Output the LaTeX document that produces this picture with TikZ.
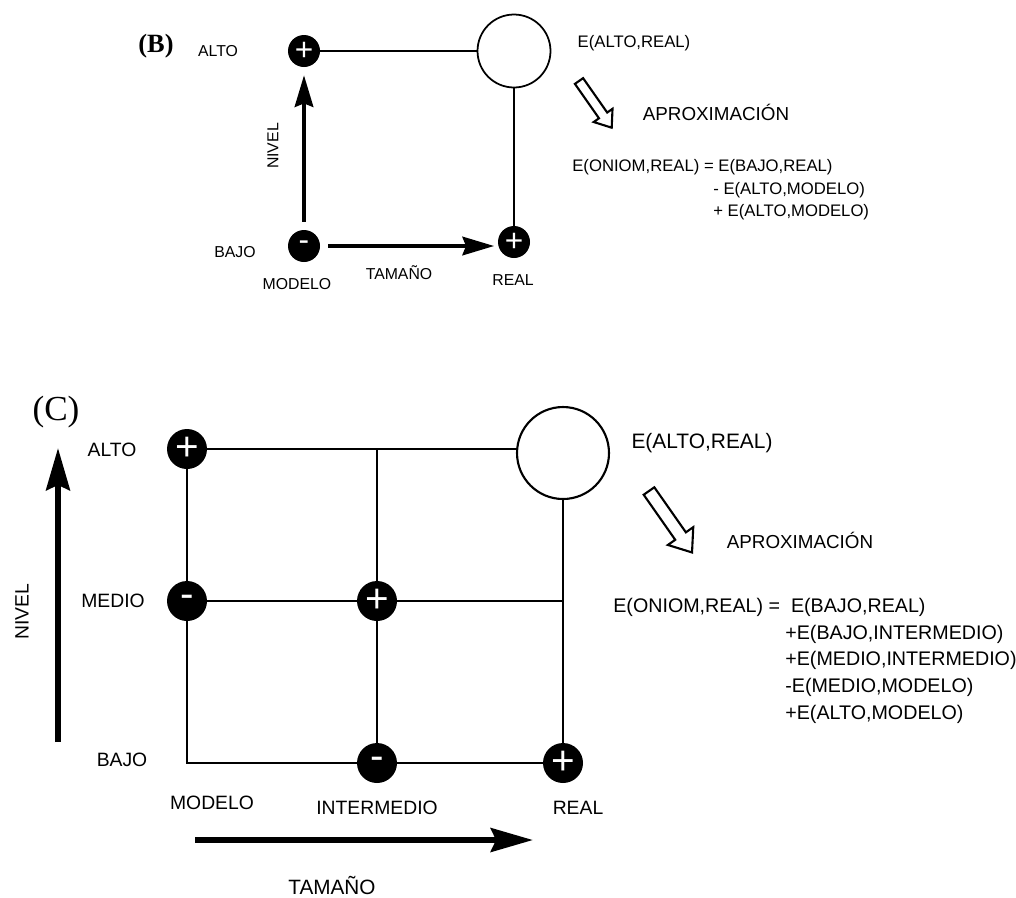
\documentclass[tikz,border=0pt]{standalone}
\usepackage{fontspec}
\setmainfont{Liberation Sans}
\newfontfamily\panelfont{Liberation Serif}
\usetikzlibrary{arrows.meta,positioning}

\begin{document}
\begin{tikzpicture}[x=0.02cm,y=-0.02cm,
    signB/.style={circle,fill=black,text=white,minimum size=0.64cm,inner sep=0pt,font=\fontsize{18}{18}\selectfont},
    signC/.style={circle,fill=black,text=white,minimum size=0.8cm,inner sep=0pt,font=\fontsize{23}{23}\selectfont},
    bigB/.style={circle,draw,line width=1pt,minimum size=1.46cm,inner sep=0pt},
    bigC/.style={circle,draw,line width=1.2pt,minimum size=1.84cm,inner sep=0pt},
    lblB/.style={font=\fontsize{9}{11}\selectfont,inner sep=0pt},
    lblC/.style={font=\fontsize{11}{13}\selectfont,inner sep=0pt},
    eqB/.style={font=\fontsize{9.5}{11}\selectfont,inner sep=0pt,anchor=west},
    eqC/.style={font=\fontsize{11.2}{13}\selectfont,inner sep=0pt,anchor=west},
    wireB/.style={line width=1pt},
    wireC/.style={line width=1.3pt},
    thickB/.style={line width=2.3pt,-{Stealth[length=18pt,width=10.5pt,inset=2pt]}},
    thickC/.style={line width=3.4pt,-{Stealth[length=24pt,width=13.5pt,inset=3pt]}},
    hollow/.style={line width=1.2pt,fill=white,line join=miter}]
    \useasboundingbox (0,0) rectangle (1016,897);

    % panel (B)
    \node[font=\panelfont\bfseries\fontsize{15}{15}\selectfont] (panB) at (156,46) {(B)};
    \node[signB] (altoB) at (304,51) {+};
    \node[signB] (bajoB) at (304,246) {-};
    \node[signB] (realB) at (514,242) {+};
    \node[bigB] (circB) at (514,51) {};
    \draw[wireB] (altoB) -- (circB);
    \draw[wireB] (circB) -- (realB);
    \draw[thickB,shorten <=4.5pt,shorten >=4.5pt] (bajoB) -- (altoB);
    \draw[thickB,shorten <=4.5pt,shorten >=2pt] (bajoB) -- (bajoB -| realB.west);
    \node[lblB] (altoBl) at (218,51) {ALTO};
    \node[lblB] (bajoBl) at (235,252) {BAJO};
    \node[lblB] (modeloBl) at (297,284) {MODELO};
    \node[lblB] (tamBl) at (399,273) {TAMAÑO};
    \node[lblB] (realBl) at (513,280) {REAL};
    \node[lblB,rotate=90] (nivelBl) at (273,146) {NIVEL};
    \node[lblB,font=\fontsize{9.5}{11}\selectfont] (eBl) at (634,43) {E(ALTO,REAL)};
    \draw[hollow,shift={(579,81)},rotate=-55] (0,-5) -- (42,-5) -- (42,-11.5) -- (57,0)
        -- (42,11.5) -- (42,5) -- (0,5) -- cycle;
    \node[lblB,font=\fontsize{10.7}{12}\selectfont] (aproxB) at (716,112) {APROXIMACIÓN};
    \node[eqB] (eqB1) at (572,167) {E(ONIOM,REAL) = E(BAJO,REAL)};
    \node[eqB] (eqB2) at (713,190) {- E(ALTO,MODELO)};
    \node[eqB] (eqB3) at (713,212) {+ E(ALTO,MODELO)};

    % panel (C)
    \node[font=\panelfont\fontsize{20}{20}\selectfont] (panC) at (56,412) {(C)};
    \node[signC] (altoM) at (187,449) {+};
    \node[signC] (medioM) at (187,601) {-};
    \node[signC] (medioI) at (377,601) {+};
    \node[signC] (bajoI) at (377,763) {-};
    \node[signC] (bajoR) at (563,763) {+};
    \node[bigC] (circC) at (563,453) {};
    \coordinate (altoI) at (377,449);
    \coordinate (medioR) at (563,601);
    \coordinate (bajoM) at (187,763);
    \draw[wireC] (altoM) -- (altoM -| circC.west);
    \draw[wireC] (altoM) -- (medioM) -- (bajoM) -- (bajoI) -- (bajoR);
    \draw[wireC] (medioM) -- (medioI) -- (medioR);
    \draw[wireC] (altoI) -- (medioI) -- (bajoI);
    \draw[wireC] (circC) -- (medioR) -- (bajoR);
    \coordinate (nivel0) at (58,742);
    \coordinate (nivel1) at (58,448);
    \coordinate (tam0) at (195,840);
    \coordinate (tam1) at (533,840);
    \draw[thickC] (nivel0) -- (nivel1);
    \draw[thickC] (tam0) -- (tam1);
    \node[lblC] (altoCl) at (112,450) {ALTO};
    \node[lblC] (medioCl) at (113,601) {MEDIO};
    \node[lblC] (bajoCl) at (122,760) {BAJO};
    \node[lblC] (modeloCl) at (212,803) {MODELO};
    \node[lblC] (interCl) at (377,808) {INTERMEDIO};
    \node[lblC] (realCl) at (578,808) {REAL};
    \node[lblC,font=\fontsize{11.8}{13}\selectfont] (tamCl) at (332,885) {TAMAÑO};
    \node[lblC,rotate=90] (nivelCl) at (22,612) {NIVEL};
    \node[lblC,font=\fontsize{11.9}{13}\selectfont] (eCl) at (702,443) {E(ALTO,REAL)};
    \draw[hollow,shift={(649,491)},rotate=-55] (0,-6.5) -- (55,-6.5) -- (55,-15.5) -- (75,0)
        -- (55,15.5) -- (55,6.5) -- (0,6.5) -- cycle;
    \node[lblC,font=\fontsize{10.7}{12}\selectfont] (aproxC) at (800,540) {APROXIMACIÓN};
    \node[eqC] (eqC1) at (613,607) {E(ONIOM,REAL) = \ E(BAJO,REAL)};
    \node[eqC] (eqC2) at (785,634) {+E(BAJO,INTERMEDIO)};
    \node[eqC] (eqC3) at (785,660) {+E(MEDIO,INTERMEDIO)};
    \node[eqC] (eqC4) at (785,687) {-E(MEDIO,MODELO)};
    \node[eqC] (eqC5) at (785,714) {+E(ALTO,MODELO)};
\end{tikzpicture}
\end{document}
